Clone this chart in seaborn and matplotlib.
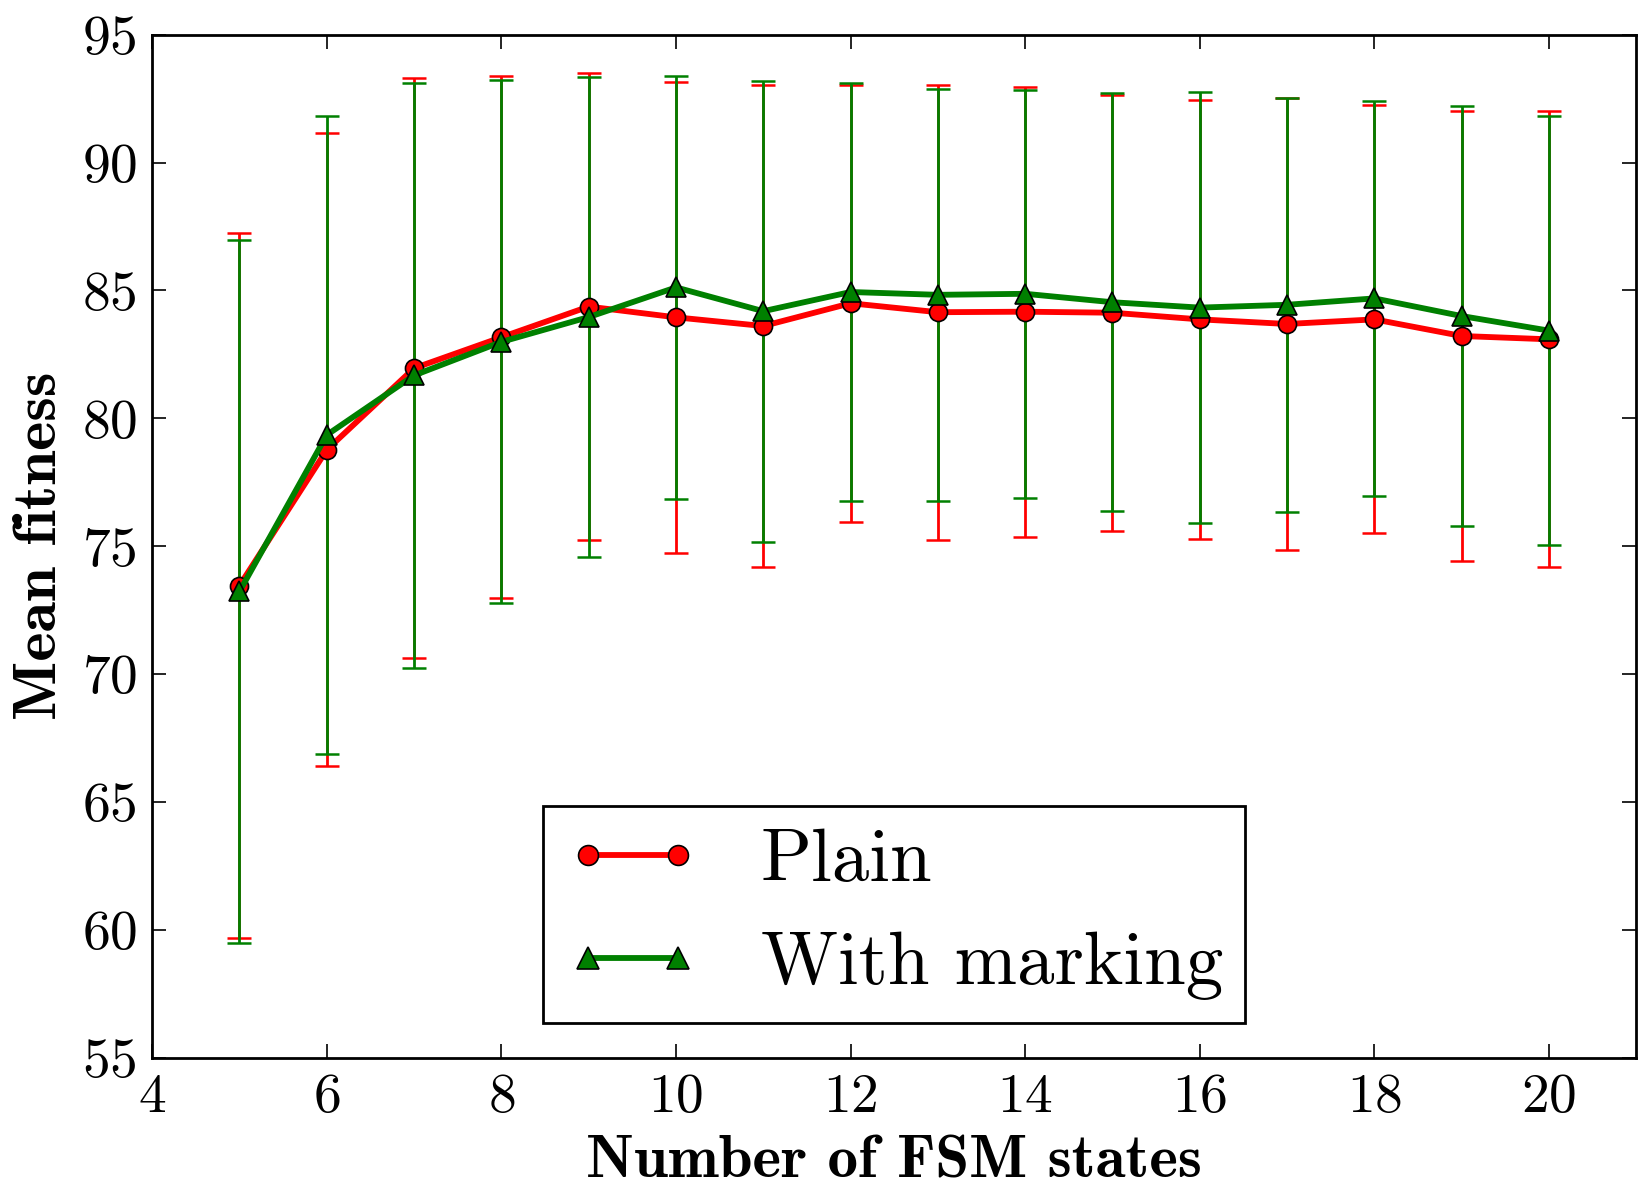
import numpy as np
import pandas as pd
import matplotlib
matplotlib.use("Agg")
import matplotlib.pyplot as plt
import seaborn as sns

# ---- data ----
states = [5, 6, 7, 8, 9, 10, 11, 12, 13, 14, 15, 16, 17, 18, 19, 20]
plain_mean = [73.46, 78.77, 81.96, 83.17, 84.37, 83.95, 83.61, 84.50,
              84.15, 84.17, 84.13, 83.87, 83.69, 83.87, 83.22, 83.09]
plain_err = [13.78, 12.38, 11.33, 10.20, 9.13, 9.20, 9.42, 8.54,
             8.90, 8.80, 8.53, 8.57, 8.82, 8.37, 8.78, 8.92]
marking_mean = [73.23, 79.35, 81.68, 82.99, 83.96, 85.12, 84.19, 84.94,
                84.83, 84.87, 84.54, 84.33, 84.44, 84.69, 84.00, 83.43]
marking_err = [13.75, 12.48, 11.44, 10.22, 9.40, 8.28, 9.01, 8.16,
               8.05, 7.97, 8.17, 8.43, 8.10, 7.73, 8.22, 8.40]
series_labels = ["Plain", "With marking"]
x_label = "Number of FSM states"
y_label = "Mean fitness"
x_ticks = [4, 6, 8, 10, 12, 14, 16, 18, 20]
y_ticks = [55, 60, 65, 70, 75, 80, 85, 90, 95]

sns.set_style("ticks")
plt.rcParams.update({
    "font.family": ["cmr10", "DejaVu Serif"],
    "mathtext.fontset": "cm",
    "axes.formatter.use_mathtext": True,
    "axes.linewidth": 2.0,
    "axes.edgecolor": "black",
    "axes.labelcolor": "black",
    "text.color": "black",
    "xtick.direction": "in",
    "ytick.direction": "in",
    "xtick.top": True,
    "ytick.right": True,
    "xtick.major.size": 10,
    "ytick.major.size": 10,
    "xtick.major.width": 1.2,
    "ytick.major.width": 1.2,
    "xtick.color": "black",
    "ytick.color": "black",
    "xtick.labelcolor": "black",
    "ytick.labelcolor": "black",
    "legend.numpoints": 2,
})

df = pd.DataFrame({
    "states": states,
    "plain": plain_mean,
    "marking": marking_mean,
})

fig = plt.figure(figsize=(16.47, 11.89), dpi=100)
ax = fig.add_axes([0.0924, 0.1104, 0.9011, 0.8604])

ax.errorbar(states, plain_mean, yerr=plain_err, fmt="none", ecolor="#ff0000",
            elinewidth=2.0, capsize=8.5, capthick=1.8, zorder=2)
ax.errorbar(states, marking_mean, yerr=marking_err, fmt="none", ecolor="#008000",
            elinewidth=2.0, capsize=8.5, capthick=1.8, zorder=2)

sns.lineplot(data=df, x="states", y="plain", ax=ax, color="#ff0000",
             marker="o", markersize=13, markeredgecolor="black",
             markeredgewidth=1.2, linewidth=4.2, label=series_labels[0], zorder=3)
sns.lineplot(data=df, x="states", y="marking", ax=ax, color="#008000",
             marker="^", markersize=14, markeredgecolor="black",
             markeredgewidth=1.2, linewidth=4.2, label=series_labels[1], zorder=4)

ax.set_xlim(4, 21)
ax.set_ylim(55, 95)
ax.set_xticks(x_ticks)
ax.set_yticks(y_ticks)
ax.tick_params(axis="both", labelsize=40, pad=11)
for lbl in ax.get_xticklabels() + ax.get_yticklabels():
    lbl.set_fontfamily("cmr10")
    lbl.set_color("black")

ax.set_xlabel(x_label, fontsize=44, fontfamily="cmb10", labelpad=9, color="black")
ax.set_ylabel(y_label, fontsize=45, fontfamily="cmb10", labelpad=10, color="black")

leg = ax.legend(loc="lower center", bbox_to_anchor=(0.5, 0.034),
                prop={"family": "cmr10", "size": 54},
                frameon=True, fancybox=False, framealpha=1,
                edgecolor="black", handlelength=1.8, handletextpad=0.8,
                borderpad=0.3, labelspacing=0.48, borderaxespad=0,
                markerscale=1.1)
leg.get_frame().set_linewidth(2.0)
for t in leg.get_texts():
    t.set_color("black")

fig.savefig("out.png", dpi=100)
